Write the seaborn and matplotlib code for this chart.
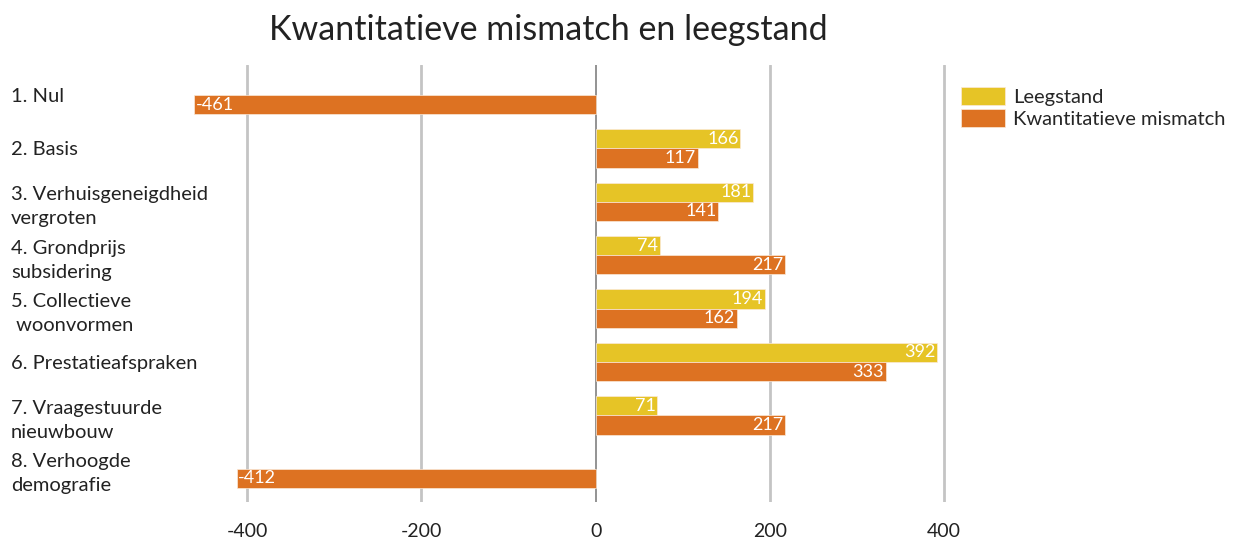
import matplotlib
matplotlib.use("Agg")
import matplotlib.pyplot as plt
import numpy as np
import pandas as pd
import seaborn as sns

# Data
categories = [
    "1. Nul",
    "2. Basis",
    "3. Verhuisgeneigdheid\nvergroten",
    "4. Grondprijs\nsubsidering",
    "5. Collectieve\n woonvormen",
    "6. Prestatieafspraken",
    "7. Vraagestuurde\nnieuwbouw",
    "8. Verhoogde\ndemografie",
]
leegstand = [np.nan, 166, 181, 74, 194, 392, 71, np.nan]
mismatch = [-461, 117, 141, 217, 162, 333, 217, -412]
series = ["Leegstand", "Kwantitatieve mismatch"]
colors = ["#E6C426", "#DD7222"]
xticks = [-400, -200, 0, 200, 400]

df = pd.DataFrame({
    "categorie": categories * 2,
    "waarde": leegstand + mismatch,
    "reeks": [series[0]] * len(categories) + [series[1]] * len(categories),
})

sns.set_style("white")
plt.rcParams["font.family"] = ["Lato", "DejaVu Sans"]

fig = plt.figure(figsize=(12.4, 5.4), dpi=100)
ax = fig.add_axes([0.1556, 0.0704, 0.6185, 0.8092])

sns.barplot(
    data=df, x="waarde", y="categorie", hue="reeks",
    order=categories, hue_order=series, palette=colors, saturation=1,
    orient="h", width=0.72, errorbar=None, ax=ax,
    edgecolor="#fbe9d8", linewidth=0.5,
)

ax.set_xlim(-462, 418)
ax.set_ylim(7.62, -0.56)
ax.set_xticks(xticks)
ax.set_xticklabels([str(t) for t in xticks], fontsize=14, color="#222222")
ax.tick_params(axis="x", length=0, pad=15)
ax.tick_params(axis="y", length=0, pad=131)
for lab in ax.get_yticklabels():
    lab.set_horizontalalignment("left")
    lab.set_fontsize(14.5)
    lab.set_color("#222222")
    lab.set_linespacing(1.5)
ax.set_xlabel("")
ax.set_ylabel("")
for s in ax.spines.values():
    s.set_visible(False)

# vertical gridlines
for t in xticks:
    ax.axvline(t, color="#808080" if t == 0 else "#c4c4c4",
               lw=1.2 if t == 0 else 2, zorder=0)

# value labels inside the bar ends
for p in ax.patches:
    w = p.get_width()
    if np.isnan(w) or w == 0:
        continue
    yc = p.get_y() + p.get_height() / 2
    if w > 0:
        ax.text(w - 2, yc, f"{w:.0f}", ha="right", va="center",
                color="white", fontsize=13)
    else:
        ax.text(w + 2, yc, f"{w:.0f}", ha="left", va="center",
                color="white", fontsize=13)

leg = ax.legend(
    loc="upper left", bbox_to_anchor=(0.7685, 0.853),
    bbox_transform=fig.transFigure, frameon=False, fontsize=14.5,
    handlelength=2.2, handleheight=1.0, handletextpad=0.4,
    labelspacing=0.12, borderaxespad=0,
)

fig.text(0.442, 0.945, "Kwantitatieve mismatch en leegstand",
         ha="center", va="center", fontsize=24.5, color="#222222")

fig.savefig("out.png", dpi=100)
